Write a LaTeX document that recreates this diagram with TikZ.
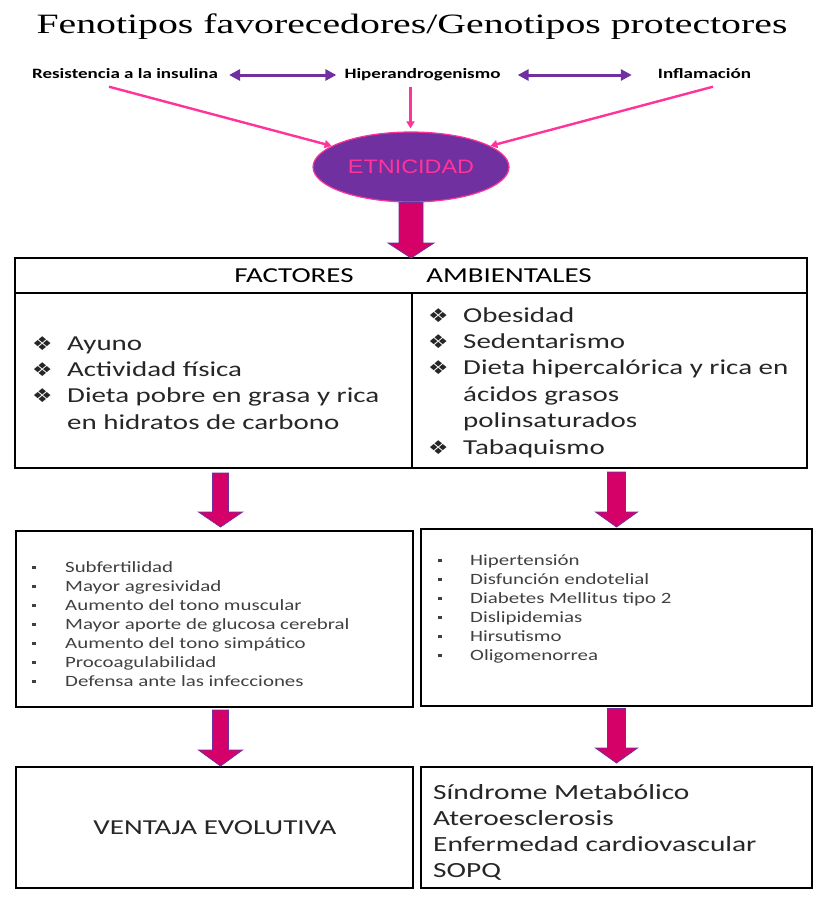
\documentclass[tikz,border=0pt]{standalone}
\usepackage{fontspec}
\usetikzlibrary{shapes.geometric,arrows.meta,calc}
\newfontfamily\calib[FakeStretch=1.36]{Carlito}
\newfontfamily\calibtop[FakeStretch=1.33]{Carlito}
\newfontfamily\titlef[FakeStretch=1.42]{Liberation Serif}
\newfontfamily\arialf[FakeStretch=1.2]{Liberation Sans}
\newfontfamily\dejav[FakeStretch=1.2]{DejaVu Sans}
\definecolor{pinkc}{RGB}{255,51,153}
\definecolor{purplec}{RGB}{112,48,160}
\definecolor{magc}{RGB}{214,0,105}
\newcommand{\mybul}{\makebox[35pt][l]{\dejav\fontsize{19}{19}\selectfont ❖}}
\newcommand{\sqbul}{\makebox[33pt][l]{\rule[3pt]{3.5pt}{3.5pt}}}
\newcommand{\blockarr}[5]{%
  \filldraw[blockarrow] ($(#1)+(-#3,0)$) -- ($(#1)+(#3,0)$) -- ($(#2)+(#3,-#5)$) -- ($(#2)+(#4,-#5)$) -- (#2) -- ($(#2)+(-#4,-#5)$) -- ($(#2)+(-#3,-#5)$) -- cycle;}
\begin{document}
\begin{tikzpicture}[x=1pt,y=-1pt,
  box/.style={draw=black, line width=2.6pt, inner sep=0pt, outer sep=0pt},
  blockarrow/.style={fill=magc, draw=purplec, line width=0.8pt, line join=miter},
  toplabel/.style={font=\calibtop\bfseries\fontsize{14.3}{16}\selectfont, inner sep=0pt, text height=10pt, text depth=3pt},
  purparrow/.style={draw=purplec, line width=3pt, {Triangle[length=11pt,width=11pt]}-{Triangle[length=11pt,width=11pt]}},
  pinkarrow/.style={draw=pinkc, line width=2.4pt, -{Triangle[length=7pt,width=8pt]}},
  listtext/.style={align=left, inner sep=0pt, anchor=north west, text=black!85},
  bigtext/.style={font=\calib\fontsize{21.3}{26.4}\selectfont},
  smalltext/.style={font=\calibtop\fontsize{15.7}{19}\selectfont, text=black!75}
]
\useasboundingbox (0,0) rectangle (817,897);

% title
\node[font=\titlef\fontsize{28}{30}\selectfont, anchor=base, inner sep=0pt] (title) at (412,33) {Fenotipos favorecedores/Genotipos protectores};

% top labels
\node[toplabel] (lab1) at (125,75) {Resistencia a la insulina};
\node[toplabel] (lab2) at (422.5,75) {Hiperandrogenismo};
\node[toplabel] (lab3) at (704.5,75) {Inflamación};

\draw[purparrow, shorten <=11pt, shorten >=8pt] (lab1.east) -- (lab2.west);
\draw[purparrow, shorten <=17pt, shorten >=26pt] (lab2.east) -- (lab3.west);

% ellipse
\node[ellipse, fill=purplec, draw=pinkc, line width=1.2pt, minimum width=196pt, minimum height=70pt, inner sep=0pt,
      font=\arialf\fontsize{19.5}{20}\selectfont, text=pinkc] (ell) at (411,167) {ETNICIDAD};

\coordinate (p1) at ($(lab1.south)+(-16,5)$);
\coordinate (p2) at ($(lab2.south)+(-12,5)$);
\coordinate (p3) at ($(lab3.south)+(8.5,5)$);
\draw[pinkarrow] (p1) -- (ell);
\draw[pinkarrow, shorten >=3pt] (p2) -- (p2 |- ell.north);
\draw[pinkarrow] (p3) -- (ell);

% main box
\node[box, minimum width=792pt, minimum height=35pt] (hdr) at (411,275.5) {};
\node[box, minimum width=397pt, minimum height=175pt] (colL) at (213.5,380.5) {};
\node[box, minimum width=395pt, minimum height=175pt] (colR) at (609.5,380.5) {};
\node[bigtext, inner sep=0pt] (fac) at (294,276) {FACTORES};
\node[bigtext, inner sep=0pt] (amb) at (509,276) {AMBIENTALES};

\node[listtext, bigtext] (listL) at (32,331.5) {%
\strut\mybul Ayuno\\
\strut\mybul Actividad física\\
\strut\mybul Dieta pobre en grasa y rica\\
\strut\hspace*{35pt}en hidratos de carbono};

\node[listtext, bigtext] (listR) at (428,303.5) {%
\strut\mybul Obesidad\\
\strut\mybul Sedentarismo\\
\strut\mybul Dieta hipercalórica y rica en\\
\strut\hspace*{35pt}ácidos grasos\\
\strut\hspace*{35pt}polinsaturados\\
\strut\mybul Tabaquismo};

% middle boxes
\node[box, minimum width=397pt, minimum height=176pt] (midL) at (214.5,619) {};
\node[box, minimum width=391pt, minimum height=177pt] (midR) at (616.5,617.5) {};

\node[listtext, smalltext] (listML) at (32,558.7) {%
\strut\sqbul Subfertilidad\\
\strut\sqbul Mayor agresividad\\
\strut\sqbul Aumento del tono muscular\\
\strut\sqbul Mayor aporte de glucosa cerebral\\
\strut\sqbul Aumento del tono simpático\\
\strut\sqbul Procoagulabilidad\\
\strut\sqbul Defensa ante las infecciones};

\node[listtext, smalltext] (listMR) at (438,551.7) {%
\strut\makebox[32pt][l]{\rule[3pt]{3.5pt}{3.5pt}}Hipertensión\\
\strut\makebox[32pt][l]{\rule[3pt]{3.5pt}{3.5pt}}Disfunción endotelial\\
\strut\makebox[32pt][l]{\rule[3pt]{3.5pt}{3.5pt}}Diabetes Mellitus tipo 2\\
\strut\makebox[32pt][l]{\rule[3pt]{3.5pt}{3.5pt}}Dislipidemias\\
\strut\makebox[32pt][l]{\rule[3pt]{3.5pt}{3.5pt}}Hirsutismo\\
\strut\makebox[32pt][l]{\rule[3pt]{3.5pt}{3.5pt}}Oligomenorrea};

% bottom boxes
\node[box, minimum width=397pt, minimum height=121pt] (botL) at (214.5,827.5) {};
\node[box, minimum width=391pt, minimum height=121pt] (botR) at (616.5,827.5) {};
\node[bigtext, inner sep=0pt, text=black!85] (vent) at (215,828) {VENTAJA EVOLUTIVA};
\node[listtext, font=\calib\fontsize{21.6}{26}\selectfont] (listBR) at (433,780.8) {%
\strut Síndrome Metabólico\\
\strut Ateroesclerosis\\
\strut Enfermedad cardiovascular\\
\strut SOPQ};

% block arrows
\coordinate (a1s) at (ell.south);
\coordinate (a1t) at (hdr.north);
\blockarr{a1s}{a1t}{12}{23}{15}

\coordinate (a2s) at ($(colL.south)+(7,5)$);
\coordinate (a2t) at ($(a2s |- midL.north)+(0,-4)$);
\blockarr{a2s}{a2t}{8}{22}{15}

\coordinate (a3s) at ($(colR.south)+(7,4)$);
\coordinate (a3t) at ($(a3s |- midR.north)+(0,-2)$);
\blockarr{a3s}{a3t}{9}{21}{15}

\coordinate (a4s) at ($(midL.south)+(6,3)$);
\coordinate (a4t) at ($(a4s |- botL.north)+(0,-1)$);
\blockarr{a4s}{a4t}{8}{22}{16}

\coordinate (a5s) at ($(midR.south)+(0,2.5)$);
\coordinate (a5t) at ($(a5s |- botR.north)+(0,-4)$);
\blockarr{a5s}{a5t}{9}{21}{15}
\end{tikzpicture}
\end{document}
